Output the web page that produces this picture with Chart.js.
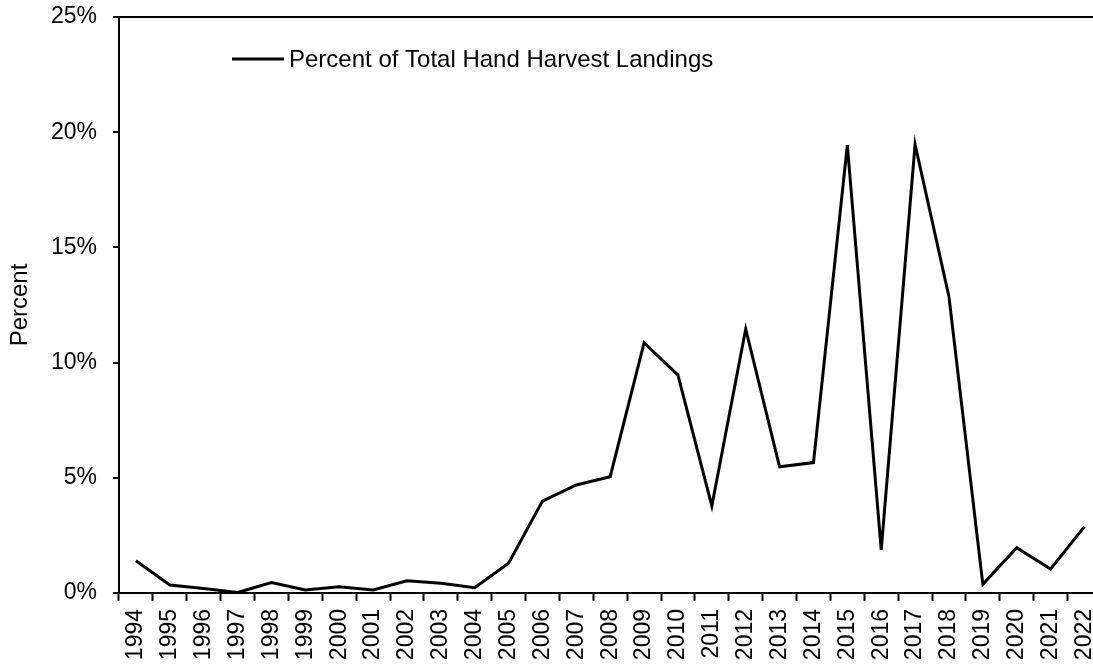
<!DOCTYPE html>
<html>
<head>
<meta charset="utf-8">
<script src="https://cdn.jsdelivr.net/npm/chart.js@4"></script>
<style>
  html, body { margin: 0; padding: 0; background: #fff; overflow: hidden; }
  #wrap { width: 1110px; height: 666px; position: relative; }
</style>
</head>
<body>
<div id="wrap"><canvas id="chart"></canvas></div>
<script>
// Years on the x axis
const years = ['1994', '1995', '1996', '1997', '1998', '1999', '2000', '2001', '2002', '2003',
    '2004', '2005', '2006', '2007', '2008', '2009', '2010', '2011', '2012', '2013',
    '2014', '2015', '2016', '2017', '2018', '2019', '2020', '2021', '2022'];

// Percent of total hand harvest landings
const percentValues = [1.40, 0.35, 0.20, 0.02, 0.45, 0.13, 0.27, 0.13, 0.53, 0.42,
    0.23, 1.29, 3.99, 4.69, 5.05, 10.86, 9.46, 3.78, 11.46, 5.48,
    5.66, 19.44, 1.87, 19.47, 12.86, 0.38, 1.97, 1.04, 2.88];

const yTicks = [0, 5, 10, 15, 20, 25];
const seriesLabel = 'Percent of Total Hand Harvest Landings';
const axisTitle = 'Percent';

const FONT = 'Liberation Sans, Arial, sans-serif';

// legend drawn inside the plot, top left
const insideLegend = {
    id: 'insideLegend',
    afterDraw(chart) {
        const ctx = chart.ctx;
        const area = chart.chartArea;
        const x = area.left + 113;
        const y = area.top + 42;
        ctx.save();
        ctx.strokeStyle = '#000';
        ctx.lineWidth = 3;
        ctx.beginPath();
        ctx.moveTo(x, y);
        ctx.lineTo(x + 52, y);
        ctx.stroke();
        ctx.fillStyle = '#000';
        ctx.font = '24px ' + FONT;
        ctx.textBaseline = 'middle';
        ctx.textAlign = 'left';
        ctx.fillText(chart.data.datasets[0].label, x + 57, y + 1);
        ctx.restore();
    }
};

const ctx = document.getElementById('chart').getContext('2d');
new Chart(ctx, {
    type: 'line',
    data: {
        labels: years,
        datasets: [{
            label: seriesLabel,
            data: percentValues,
            borderColor: '#000',
            borderWidth: 3,
            pointRadius: 0,
            tension: 0,
            fill: false
        }]
    },
    options: {
        responsive: true,
        maintainAspectRatio: false,
        animation: false,
        devicePixelRatio: 1,
        layout: { padding: { left: 0, top: 17, right: 8.6, bottom: 0 } },
        plugins: {
            legend: { display: false },
            tooltip: { enabled: false }
        },
        scales: {
            x: {
                type: 'category',
                offset: true,
                grid: {
                    offset: true,
                    drawOnChartArea: false,
                    tickColor: '#000',
                    tickLength: 8,
                    tickWidth: 2
                },
                border: { color: '#000', width: 2 },
                ticks: {
                    color: '#000',
                    font: { family: FONT, size: 23 },
                    minRotation: 90,
                    maxRotation: 90,
                    autoSkip: false,
                    padding: 8
                },
                afterFit(scale) {
                    scale.height = 73;
                    scale.paddingLeft = 0;
                    scale.paddingRight = 0;
                }
            },
            y: {
                min: 0,
                max: 25,
                afterBuildTicks(scale) {
                    scale.ticks = yTicks.map(v => ({ value: v }));
                },
                grid: {
                    color: c => (c.tick && c.tick.value === 25 ? '#000' : 'rgba(0,0,0,0)'),
                    lineWidth: 2,
                    tickColor: '#000',
                    tickLength: 6,
                    tickWidth: 2
                },
                border: { color: '#000', width: 2 },
                ticks: {
                    color: '#000',
                    font: { family: FONT, size: 23 },
                    padding: 16,
                    callback: v => v + '%'
                },
                title: {
                    display: true,
                    text: axisTitle,
                    color: '#000',
                    font: { family: FONT, size: 24 },
                    padding: { top: 6, bottom: 0 }
                },
                afterFit(scale) {
                    scale.width = 119;
                    scale.paddingTop = 0;
                    scale.paddingBottom = 0;
                }
            }
        }
    },
    plugins: [insideLegend]
});
</script>
</body>
</html>
